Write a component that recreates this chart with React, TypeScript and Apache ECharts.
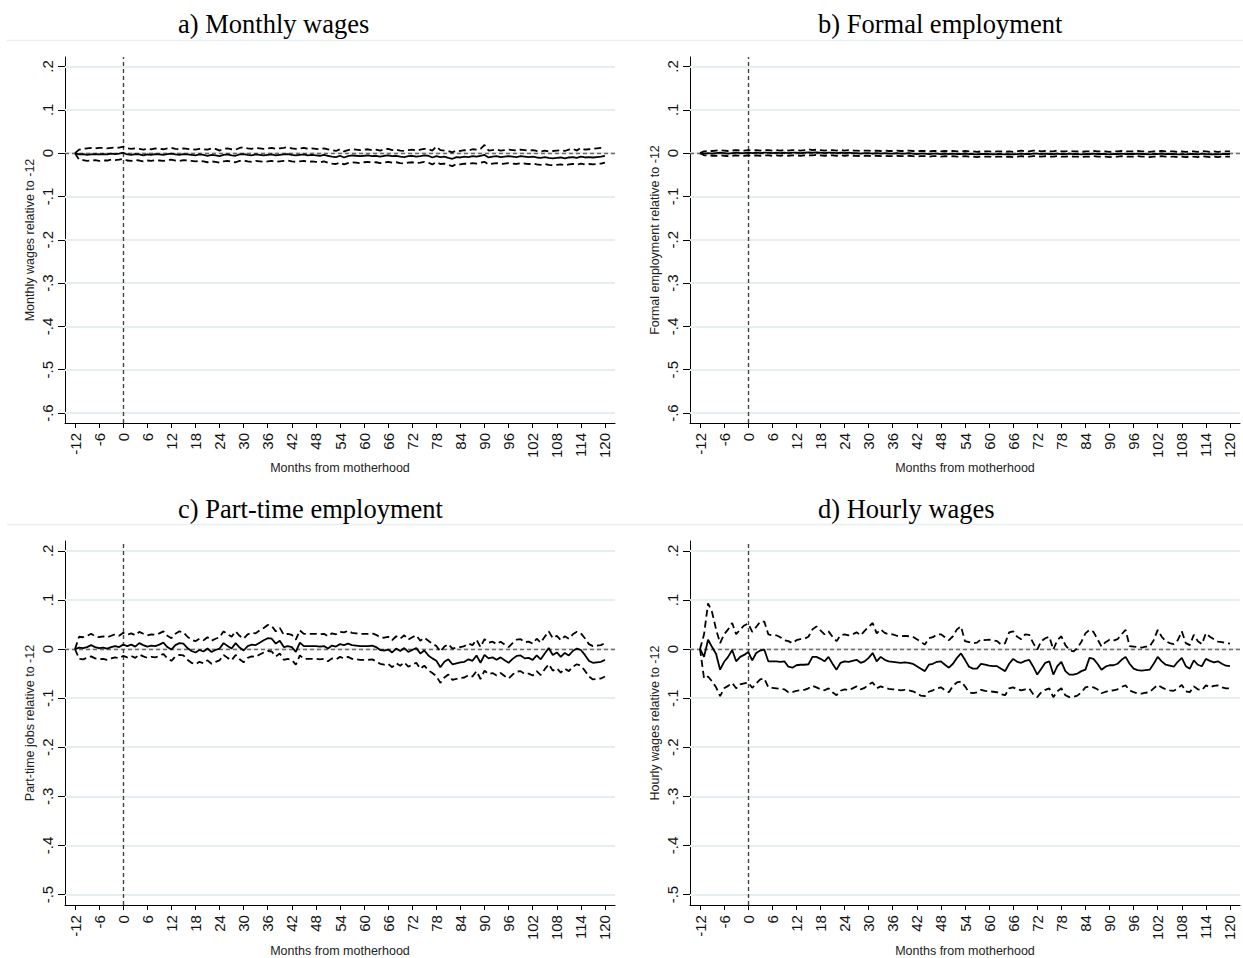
import React, { useEffect, useRef } from "react";
import * as echarts from "echarts";

// Months from motherhood (-12 .. 120)
const months: number[] = Array.from({ length: 133 }, (_, i) => i - 12);
const xTicks = [-12, -6, 0, 6, 12, 18, 24, 30, 36, 42, 48, 54, 60, 66, 72, 78, 84, 90, 96, 102, 108, 114, 120];
const yTicksTop = [-0.6, -0.5, -0.4, -0.3, -0.2, -0.1, 0, 0.1, 0.2];
const yTicksBottom = [-0.5, -0.4, -0.3, -0.2, -0.1, 0, 0.1, 0.2];

// a) Monthly wages
const wageEst = [
  0, -0.003, -0.002, -0.004, -0.003, -0.002, -0.003, -0.002, -0.003, -0.001, -0.002, -0.001,
  0.001, -0.003, -0.004, -0.002, -0.003, -0.005, -0.003, -0.004, -0.002, -0.003, -0.004, -0.002,
  -0.001, -0.003, -0.004, -0.002, -0.003, -0.004, -0.005, -0.003, -0.004, -0.006, -0.004, -0.005,
  -0.007, -0.004, -0.003, -0.005, -0.006, -0.003, -0.002, -0.004, -0.005, -0.003, -0.004, -0.005,
  -0.004, -0.003, -0.005, -0.004, -0.003, -0.002, -0.004, -0.005, -0.004, -0.003, -0.005, -0.004,
  -0.005, -0.006, -0.004, -0.006, -0.008, -0.009, -0.006, -0.010, -0.007, -0.005, -0.006, -0.007,
  -0.006, -0.005, -0.007, -0.006, -0.008, -0.006, -0.005, -0.007, -0.006, -0.008, -0.009, -0.007,
  -0.006, -0.008, -0.007, -0.005, -0.006, -0.010, -0.007, -0.009, -0.008, -0.011, -0.013, -0.009,
  -0.010, -0.008, -0.009, -0.007, -0.008, -0.006, -0.004, -0.010, -0.008, -0.007, -0.009, -0.008,
  -0.007, -0.008, -0.009, -0.007, -0.008, -0.009, -0.008, -0.010, -0.011, -0.009, -0.011, -0.012,
  -0.011, -0.010, -0.012, -0.010, -0.009, -0.011, -0.008, -0.010, -0.009, -0.010, -0.009, -0.008,
  -0.006,
];
const wageUp = [
  0, 0.008, 0.010, 0.011, 0.012, 0.011, 0.012, 0.012, 0.011, 0.012, 0.013, 0.013,
  0.015, 0.011, 0.010, 0.011, 0.010, 0.008, 0.010, 0.009, 0.011, 0.010, 0.009, 0.011,
  0.012, 0.010, 0.009, 0.011, 0.010, 0.009, 0.008, 0.010, 0.009, 0.008, 0.011, 0.010,
  0.006, 0.010, 0.011, 0.009, 0.008, 0.012, 0.014, 0.011, 0.010, 0.012, 0.011, 0.010,
  0.011, 0.012, 0.010, 0.011, 0.012, 0.014, 0.011, 0.010, 0.011, 0.012, 0.010, 0.011,
  0.010, 0.009, 0.011, 0.009, 0.007, 0.005, 0.009, 0.004, 0.007, 0.009, 0.008, 0.007,
  0.008, 0.009, 0.007, 0.008, 0.006, 0.009, 0.010, 0.007, 0.008, 0.006, 0.005, 0.007,
  0.008, 0.006, 0.008, 0.010, 0.009, 0.006, 0.015, 0.007, 0.006, 0.005, 0.002, 0.006,
  0.005, 0.007, 0.006, 0.009, 0.008, 0.010, 0.019, 0.006, 0.007, 0.008, 0.006, 0.007,
  0.008, 0.007, 0.006, 0.008, 0.007, 0.006, 0.007, 0.005, 0.004, 0.006, 0.004, 0.005,
  0.006, 0.007, 0.005, 0.008, 0.010, 0.006, 0.012, 0.008, 0.009, 0.010, 0.011, 0.012,
  0.012,
];
const wageLo = [
  0, -0.015, -0.016, -0.018, -0.017, -0.016, -0.018, -0.017, -0.017, -0.015, -0.016, -0.015,
  -0.013, -0.017, -0.018, -0.016, -0.017, -0.019, -0.017, -0.018, -0.016, -0.017, -0.018, -0.016,
  -0.015, -0.017, -0.018, -0.016, -0.017, -0.018, -0.019, -0.018, -0.019, -0.021, -0.019, -0.020,
  -0.022, -0.019, -0.018, -0.020, -0.021, -0.018, -0.017, -0.019, -0.020, -0.018, -0.019, -0.020,
  -0.019, -0.018, -0.020, -0.019, -0.018, -0.017, -0.019, -0.020, -0.019, -0.018, -0.020, -0.019,
  -0.020, -0.021, -0.019, -0.022, -0.024, -0.025, -0.022, -0.026, -0.023, -0.021, -0.022, -0.023,
  -0.021, -0.020, -0.022, -0.021, -0.023, -0.022, -0.020, -0.022, -0.021, -0.023, -0.024, -0.022,
  -0.021, -0.023, -0.022, -0.020, -0.022, -0.026, -0.021, -0.025, -0.024, -0.027, -0.030, -0.025,
  -0.026, -0.024, -0.025, -0.023, -0.024, -0.022, -0.020, -0.026, -0.024, -0.023, -0.025, -0.024,
  -0.023, -0.024, -0.025, -0.023, -0.024, -0.025, -0.024, -0.026, -0.027, -0.025, -0.027, -0.028,
  -0.027, -0.026, -0.028, -0.026, -0.025, -0.027, -0.024, -0.026, -0.025, -0.026, -0.025, -0.024,
  -0.022,
];

// b) Formal employment
const formalEst = [
  0, -0.001, 0.000, -0.001, 0.000, 0.001, 0.000, -0.001, 0.000, 0.001, 0.000, 0.000,
  0.001, 0.000, 0.001, 0.000, 0.001, 0.001, 0.000, 0.001, 0.000, 0.001, 0.000, 0.001,
  0.001, 0.000, 0.001, 0.002, 0.001, 0.002, 0.001, 0.000, 0.001, 0.001, 0.000, 0.001,
  0.000, 0.001, 0.000, 0.000, -0.001, 0.000, 0.000, -0.001, 0.000, -0.001, 0.000, -0.001,
  -0.001, 0.000, -0.001, -0.001, 0.000, -0.001, -0.002, -0.001, -0.001, -0.002, -0.001, -0.001,
  -0.002, -0.001, -0.002, -0.001, -0.002, -0.002, -0.001, -0.002, -0.002, -0.003, -0.002, -0.002,
  -0.002, -0.003, -0.002, -0.002, -0.003, -0.002, -0.003, -0.002, -0.001, -0.002, -0.002, -0.001,
  -0.001, -0.002, -0.001, -0.002, -0.002, -0.001, -0.002, -0.002, -0.001, -0.002, -0.002, -0.003,
  -0.002, -0.002, -0.001, -0.002, -0.002, -0.002, -0.003, -0.002, -0.002, -0.001, -0.002, -0.002,
  -0.002, -0.001, -0.002, -0.002, -0.003, -0.002, -0.002, -0.001, -0.002, -0.002, -0.002, -0.003,
  -0.002, -0.003, -0.002, -0.002, -0.003, -0.001, -0.002, -0.003, -0.002, -0.003, -0.002, -0.002,
  -0.002,
];
const formalUp = [
  0, 0.004, 0.005, 0.005, 0.006, 0.007, 0.006, 0.005, 0.006, 0.007, 0.006, 0.006,
  0.007, 0.006, 0.007, 0.006, 0.007, 0.007, 0.006, 0.007, 0.006, 0.007, 0.006, 0.007,
  0.007, 0.006, 0.007, 0.009, 0.007, 0.008, 0.007, 0.006, 0.007, 0.007, 0.006, 0.007,
  0.006, 0.007, 0.006, 0.006, 0.005, 0.006, 0.006, 0.005, 0.006, 0.005, 0.006, 0.005,
  0.005, 0.006, 0.005, 0.005, 0.006, 0.005, 0.004, 0.005, 0.005, 0.004, 0.005, 0.005,
  0.004, 0.005, 0.004, 0.005, 0.004, 0.004, 0.005, 0.004, 0.004, 0.003, 0.004, 0.004,
  0.004, 0.003, 0.004, 0.004, 0.003, 0.004, 0.003, 0.004, 0.006, 0.004, 0.004, 0.006,
  0.006, 0.004, 0.005, 0.004, 0.004, 0.006, 0.004, 0.004, 0.005, 0.004, 0.004, 0.003,
  0.004, 0.004, 0.005, 0.004, 0.004, 0.004, 0.003, 0.004, 0.004, 0.005, 0.004, 0.004,
  0.004, 0.005, 0.004, 0.004, 0.003, 0.004, 0.004, 0.005, 0.004, 0.004, 0.004, 0.003,
  0.004, 0.003, 0.004, 0.004, 0.003, 0.005, 0.004, 0.003, 0.004, 0.003, 0.004, 0.004,
  0.004,
];
const formalLo = [
  0, -0.005, -0.005, -0.006, -0.006, -0.005, -0.006, -0.007, -0.006, -0.005, -0.006, -0.006,
  -0.005, -0.006, -0.005, -0.006, -0.005, -0.005, -0.006, -0.005, -0.006, -0.005, -0.006, -0.005,
  -0.005, -0.006, -0.005, -0.005, -0.005, -0.004, -0.005, -0.006, -0.005, -0.005, -0.006, -0.005,
  -0.006, -0.005, -0.006, -0.006, -0.007, -0.006, -0.006, -0.007, -0.006, -0.007, -0.006, -0.007,
  -0.007, -0.006, -0.007, -0.007, -0.006, -0.007, -0.008, -0.007, -0.007, -0.008, -0.007, -0.007,
  -0.008, -0.007, -0.008, -0.007, -0.008, -0.008, -0.007, -0.008, -0.008, -0.009, -0.008, -0.008,
  -0.008, -0.009, -0.008, -0.008, -0.009, -0.008, -0.009, -0.008, -0.007, -0.008, -0.008, -0.007,
  -0.007, -0.008, -0.007, -0.008, -0.008, -0.007, -0.008, -0.008, -0.007, -0.008, -0.008, -0.009,
  -0.008, -0.008, -0.007, -0.008, -0.008, -0.008, -0.009, -0.008, -0.008, -0.007, -0.008, -0.008,
  -0.008, -0.007, -0.008, -0.008, -0.009, -0.008, -0.008, -0.007, -0.008, -0.008, -0.008, -0.009,
  -0.008, -0.009, -0.008, -0.008, -0.009, -0.007, -0.008, -0.009, -0.008, -0.009, -0.008, -0.008,
  -0.008,
];

// c) Part-time employment
const partEst = [
  0, 0.003, 0.002, 0.004, 0.008, 0.004, 0.002, 0.003, 0.001, 0.004, 0.006, 0.004,
  0.009, 0.006, 0.009, 0.005, 0.012, 0.008, 0.005, 0.007, 0.006, 0.009, 0.013, 0.004,
  -0.001, 0.008, 0.012, 0.011, 0.002, -0.004, -0.007, -0.002, -0.005, 0.001, -0.006, -0.002,
  0.001, 0.012, 0.006, 0.001, 0.012, 0.003, -0.003, 0.006, 0.009, 0.008, 0.013, 0.018,
  0.022, 0.021, 0.011, 0.017, 0.004, 0.006, 0.004, -0.006, 0.013, 0.006, 0.006, 0.006,
  0.006, 0.005, 0.006, 0.001, 0.007, 0.005, 0.010, 0.008, 0.011, 0.008, 0.007, 0.006,
  0.006, 0.006, 0.007, 0.004, -0.002, -0.003, -0.001, -0.007, 0.001, -0.004, 0.002, -0.006,
  -0.002, 0.002, -0.009, -0.003, -0.013, -0.019, -0.024, -0.037, -0.026, -0.021, -0.031, -0.029,
  -0.027, -0.026, -0.021, -0.024, -0.013, -0.028, -0.012, -0.019, -0.017, -0.022, -0.017, -0.023,
  -0.028, -0.020, -0.014, -0.013, -0.019, -0.018, -0.022, -0.013, -0.021, -0.009, 0.002, -0.012,
  -0.007, -0.016, -0.008, -0.013, -0.004, 0.001, -0.002, -0.012, -0.024, -0.028, -0.027, -0.026,
  -0.022,
];
const partUp = [
  0, 0.025, 0.024, 0.027, 0.031, 0.026, 0.024, 0.026, 0.024, 0.027, 0.030, 0.027,
  0.033, 0.029, 0.032, 0.028, 0.035, 0.031, 0.028, 0.030, 0.029, 0.032, 0.036, 0.027,
  0.022, 0.031, 0.036, 0.034, 0.025, 0.019, 0.016, 0.021, 0.018, 0.024, 0.017, 0.021,
  0.024, 0.036, 0.030, 0.025, 0.036, 0.027, 0.021, 0.030, 0.033, 0.032, 0.038, 0.043,
  0.049, 0.047, 0.036, 0.043, 0.029, 0.031, 0.029, 0.019, 0.038, 0.031, 0.031, 0.031,
  0.031, 0.030, 0.031, 0.026, 0.032, 0.030, 0.035, 0.034, 0.037, 0.033, 0.032, 0.031,
  0.031, 0.031, 0.032, 0.029, 0.024, 0.023, 0.025, 0.018, 0.026, 0.021, 0.028, 0.019,
  0.024, 0.028, 0.017, 0.023, 0.017, 0.011, 0.006, -0.005, 0.005, 0.010, 0.001, 0.003,
  0.004, 0.006, 0.011, 0.008, 0.019, 0.004, 0.020, 0.013, 0.015, 0.010, 0.015, 0.009,
  0.004, 0.012, 0.019, 0.020, 0.014, 0.015, 0.011, 0.021, 0.013, 0.025, 0.036, 0.022,
  0.027, 0.018, 0.026, 0.021, 0.030, 0.035, 0.032, 0.022, 0.010, 0.006, 0.007, 0.008,
  0.012,
];
const partLo = [
  0, -0.020, -0.021, -0.018, -0.015, -0.019, -0.021, -0.020, -0.022, -0.019, -0.017, -0.019,
  -0.014, -0.017, -0.014, -0.018, -0.011, -0.015, -0.018, -0.016, -0.017, -0.014, -0.010, -0.019,
  -0.024, -0.015, -0.012, -0.013, -0.022, -0.028, -0.031, -0.026, -0.029, -0.023, -0.030, -0.026,
  -0.023, -0.012, -0.018, -0.023, -0.012, -0.021, -0.027, -0.018, -0.015, -0.016, -0.011, -0.007,
  -0.004, -0.005, -0.015, -0.009, -0.022, -0.020, -0.022, -0.032, -0.013, -0.020, -0.020, -0.020,
  -0.020, -0.021, -0.020, -0.025, -0.019, -0.021, -0.016, -0.019, -0.016, -0.020, -0.021, -0.022,
  -0.022, -0.022, -0.021, -0.025, -0.030, -0.032, -0.030, -0.037, -0.029, -0.034, -0.027, -0.036,
  -0.032, -0.028, -0.040, -0.034, -0.043, -0.049, -0.055, -0.069, -0.058, -0.052, -0.063, -0.061,
  -0.059, -0.058, -0.053, -0.056, -0.045, -0.061, -0.044, -0.051, -0.049, -0.054, -0.049, -0.055,
  -0.060, -0.052, -0.046, -0.045, -0.051, -0.050, -0.054, -0.045, -0.053, -0.041, -0.031, -0.044,
  -0.039, -0.048, -0.040, -0.045, -0.036, -0.031, -0.034, -0.044, -0.056, -0.062, -0.061, -0.060,
  -0.056,
];

// d) Hourly wages
const hourlyEst = [
  0, -0.016, 0.019, 0.004, -0.010, -0.042, -0.026, -0.016, -0.002, -0.025, -0.016, -0.012,
  -0.006, -0.023, -0.008, -0.003, -0.001, -0.025, -0.025, -0.025, -0.026, -0.025, -0.036, -0.038,
  -0.033, -0.032, -0.032, -0.031, -0.016, -0.016, -0.020, -0.025, -0.016, -0.030, -0.042, -0.028,
  -0.025, -0.026, -0.024, -0.022, -0.028, -0.025, -0.018, -0.008, -0.025, -0.016, -0.022, -0.025,
  -0.026, -0.027, -0.028, -0.027, -0.028, -0.030, -0.035, -0.040, -0.045, -0.032, -0.030, -0.026,
  -0.025, -0.032, -0.038, -0.030, -0.018, -0.009, -0.022, -0.036, -0.040, -0.040, -0.030, -0.032,
  -0.034, -0.035, -0.035, -0.040, -0.045, -0.030, -0.020, -0.026, -0.028, -0.024, -0.022, -0.036,
  -0.052, -0.040, -0.028, -0.025, -0.052, -0.035, -0.026, -0.045, -0.052, -0.052, -0.050, -0.045,
  -0.042, -0.018, -0.020, -0.030, -0.042, -0.036, -0.033, -0.033, -0.030, -0.022, -0.016, -0.030,
  -0.040, -0.043, -0.044, -0.043, -0.042, -0.030, -0.016, -0.025, -0.032, -0.034, -0.036, -0.026,
  -0.018, -0.035, -0.040, -0.023, -0.032, -0.035, -0.020, -0.024, -0.027, -0.025, -0.030, -0.034,
  -0.035,
];
const hourlyUp = [
  0, 0.030, 0.093, 0.075, 0.040, 0.012, 0.030, 0.040, 0.053, 0.030, 0.040, 0.048,
  0.052, 0.035, 0.045, 0.056, 0.056, 0.030, 0.028, 0.028, 0.024, 0.018, 0.016, 0.012,
  0.018, 0.020, 0.021, 0.025, 0.040, 0.046, 0.038, 0.030, 0.036, 0.025, 0.016, 0.028,
  0.030, 0.028, 0.030, 0.034, 0.028, 0.037, 0.045, 0.053, 0.032, 0.040, 0.033, 0.030,
  0.030, 0.027, 0.026, 0.027, 0.026, 0.025, 0.020, 0.015, 0.009, 0.022, 0.024, 0.030,
  0.030, 0.024, 0.018, 0.026, 0.040, 0.046, 0.016, 0.014, 0.012, 0.013, 0.020, 0.018,
  0.019, 0.018, 0.016, 0.009, 0.012, 0.034, 0.036, 0.025, 0.020, 0.030, 0.029, 0.012,
  -0.001, 0.016, 0.022, 0.025, -0.001, 0.018, 0.026, 0.008, -0.002, -0.005, 0.002, 0.015,
  0.032, 0.039, 0.035, 0.020, 0.005, 0.014, 0.019, 0.017, 0.020, 0.030, 0.039, 0.006,
  0.005, 0.004, 0.003, 0.005, 0.005, 0.018, 0.039, 0.025, 0.016, 0.012, 0.010, 0.018,
  0.036, 0.012, 0.008, 0.029, 0.016, 0.010, 0.032, 0.025, 0.020, 0.015, 0.014, 0.012,
  0.011,
];
const hourlyLo = [
  0, -0.060, -0.056, -0.066, -0.078, -0.096, -0.080, -0.075, -0.069, -0.080, -0.072, -0.070,
  -0.068, -0.079, -0.070, -0.062, -0.060, -0.078, -0.079, -0.080, -0.081, -0.082, -0.088, -0.088,
  -0.085, -0.084, -0.083, -0.080, -0.075, -0.078, -0.082, -0.084, -0.080, -0.088, -0.094, -0.085,
  -0.082, -0.084, -0.080, -0.076, -0.082, -0.079, -0.072, -0.068, -0.080, -0.076, -0.079, -0.081,
  -0.082, -0.083, -0.084, -0.083, -0.084, -0.086, -0.090, -0.095, -0.096, -0.087, -0.084, -0.080,
  -0.078, -0.084, -0.088, -0.075, -0.068, -0.066, -0.076, -0.088, -0.090, -0.088, -0.083, -0.085,
  -0.086, -0.087, -0.088, -0.092, -0.094, -0.080, -0.078, -0.082, -0.084, -0.082, -0.080, -0.092,
  -0.098, -0.088, -0.083, -0.080, -0.098, -0.086, -0.080, -0.094, -0.098, -0.097, -0.095, -0.088,
  -0.078, -0.076, -0.078, -0.082, -0.090, -0.087, -0.085, -0.084, -0.082, -0.077, -0.074, -0.084,
  -0.088, -0.090, -0.091, -0.089, -0.088, -0.080, -0.073, -0.078, -0.082, -0.084, -0.085, -0.080,
  -0.073, -0.086, -0.088, -0.076, -0.082, -0.084, -0.074, -0.078, -0.075, -0.074, -0.078, -0.080,
  -0.080,
];

const panelTitles = ["a) Monthly wages", "b) Formal employment", "c) Part-time employment", "d) Hourly wages"];
const yNames = [
  "Monthly wages relative to -12",
  "Formal employment relative to -12",
  "Part-time jobs relative to -12",
  "Hourly wages relative to -12",
];
const xName = "Months from motherhood";

const SANS = "'Liberation Sans', Arial, sans-serif";
const SERIF = "'Liberation Serif', 'Times New Roman', serif";

function stataFmt(v: number): string {
  const r = Math.round(v * 10) / 10;
  if (Math.abs(r) < 1e-9) return "0";
  return String(r).replace("0.", ".");
}

export default function App() {
  const ref = useRef<HTMLDivElement>(null);

  useEffect(() => {
    if (!ref.current) return;
    const chart = echarts.init(ref.current, undefined, { renderer: "svg" });

    const panels = [
      { est: wageEst, up: wageUp, lo: wageLo, left: 65, top: 57, yMin: -0.623, yMax: 0.222, ticks: yTicksTop },
      { est: formalEst, up: formalUp, lo: formalLo, left: 690, top: 57, yMin: -0.623, yMax: 0.222, ticks: yTicksTop },
      { est: partEst, up: partUp, lo: partLo, left: 65, top: 541, yMin: -0.5214, yMax: 0.22, ticks: yTicksBottom },
      { est: hourlyEst, up: hourlyUp, lo: hourlyLo, left: 690, top: 541, yMin: -0.5214, yMax: 0.22, ticks: yTicksBottom },
    ];
    const W = 550;
    const H = 366;

    const grid: any[] = [];
    const xAxis: any[] = [];
    const yAxis: any[] = [];
    const series: any[] = [];

    panels.forEach((p, i) => {
      grid.push({ left: p.left, top: p.top, width: W, height: H, containLabel: false });
      xAxis.push({
        gridIndex: i,
        type: "value",
        min: -14.5,
        max: 122.5,
        name: xName,
        nameLocation: "middle",
        nameGap: 38,
        nameTextStyle: { fontFamily: SANS, fontSize: 12.5, color: "#222" },
        axisLine: { show: true, onZero: false, lineStyle: { color: "#000", width: 1 } },
        axisTick: { show: true, length: 5, customValues: xTicks, lineStyle: { color: "#000" } },
        axisLabel: {
          show: true,
          rotate: 90,
          margin: 10,
          customValues: xTicks,
          fontFamily: SANS,
          fontSize: 15,
          color: "#111",
        },
        splitLine: { show: false },
      });
      yAxis.push({
        gridIndex: i,
        type: "value",
        min: p.yMin,
        max: p.yMax,
        name: yNames[i],
        nameLocation: "middle",
        nameGap: 29,
        nameTextStyle: { fontFamily: SANS, fontSize: 12.5, color: "#222" },
        axisLine: { show: true, onZero: false, lineStyle: { color: "#000", width: 1 } },
        axisTick: { show: true, length: 7, customValues: p.ticks, lineStyle: { color: "#000" } },
        axisLabel: {
          show: true,
          rotate: 90,
          margin: 10,
          customValues: p.ticks,
          formatter: (v: number) => stataFmt(v),
          fontFamily: SANS,
          fontSize: 15,
          color: "#111",
        },
        splitLine: { show: false },
      });

      // background gridlines
      series.push({
        type: "line",
        xAxisIndex: i,
        yAxisIndex: i,
        data: [],
        silent: true,
        z: 1,
        markLine: {
          silent: true,
          z: 1,
          symbol: ["none", "none"],
          label: { show: false },
          lineStyle: { color: "#e6eef1", width: 2, type: "solid" },
          data: p.ticks.map((t) => ({ yAxis: t })),
        },
      });
      // reference lines at y = 0 and x = 0
      series.push({
        type: "line",
        xAxisIndex: i,
        yAxisIndex: i,
        data: [],
        silent: true,
        z: 2,
        markLine: {
          silent: true,
          z: 2,
          symbol: ["none", "none"],
          label: { show: false },
          data: [
            { yAxis: 0, lineStyle: { color: "#6a6a6a", width: 1.4, type: [4, 3] } },
            { xAxis: 0, lineStyle: { color: "#444", width: 1.4, type: [4, 3] } },
          ],
        },
      });

      const mk = (arr: number[]) => months.map((m, k) => [m, arr[k]]);
      series.push({
        type: "line",
        xAxisIndex: i,
        yAxisIndex: i,
        data: mk(p.up),
        showSymbol: false,
        z: 3,
        lineStyle: { color: "#000", width: 1.8, type: [7, 4] },
      });
      series.push({
        type: "line",
        xAxisIndex: i,
        yAxisIndex: i,
        data: mk(p.lo),
        showSymbol: false,
        z: 3,
        lineStyle: { color: "#000", width: 1.8, type: [7, 4] },
      });
      series.push({
        type: "line",
        xAxisIndex: i,
        yAxisIndex: i,
        data: mk(p.est),
        showSymbol: false,
        z: 4,
        lineStyle: { color: "#000", width: 1.8 },
      });
    });

    const graphic: any[] = [
      { type: "line", shape: { x1: 7, y1: 40.5, x2: 1243, y2: 40.5 }, style: { stroke: "#e8eff1", lineWidth: 1.5 } },
      { type: "line", shape: { x1: 7, y1: 524.5, x2: 1243, y2: 524.5 }, style: { stroke: "#e8eff1", lineWidth: 1.5 } },
      { type: "text", left: 178, top: 10, style: { text: panelTitles[0], font: `26.5px ${SERIF}`, fill: "#000" } },
      { type: "text", left: 818, top: 10, style: { text: panelTitles[1], font: `26.5px ${SERIF}`, fill: "#000" } },
      { type: "text", left: 178, top: 495, style: { text: panelTitles[2], font: `26.5px ${SERIF}`, fill: "#000" } },
      { type: "text", left: 818, top: 495, style: { text: panelTitles[3], font: `26.5px ${SERIF}`, fill: "#000" } },
    ];

    chart.setOption({
      animation: false,
      backgroundColor: "#ffffff",
      grid,
      xAxis,
      yAxis,
      series,
      graphic,
    });

    return () => chart.dispose();
  }, []);

  return (
    <div
      ref={ref}
      style={{ position: "absolute", left: 0, top: 0, width: 1243, height: 958, background: "#fff" }}
    />
  );
}
